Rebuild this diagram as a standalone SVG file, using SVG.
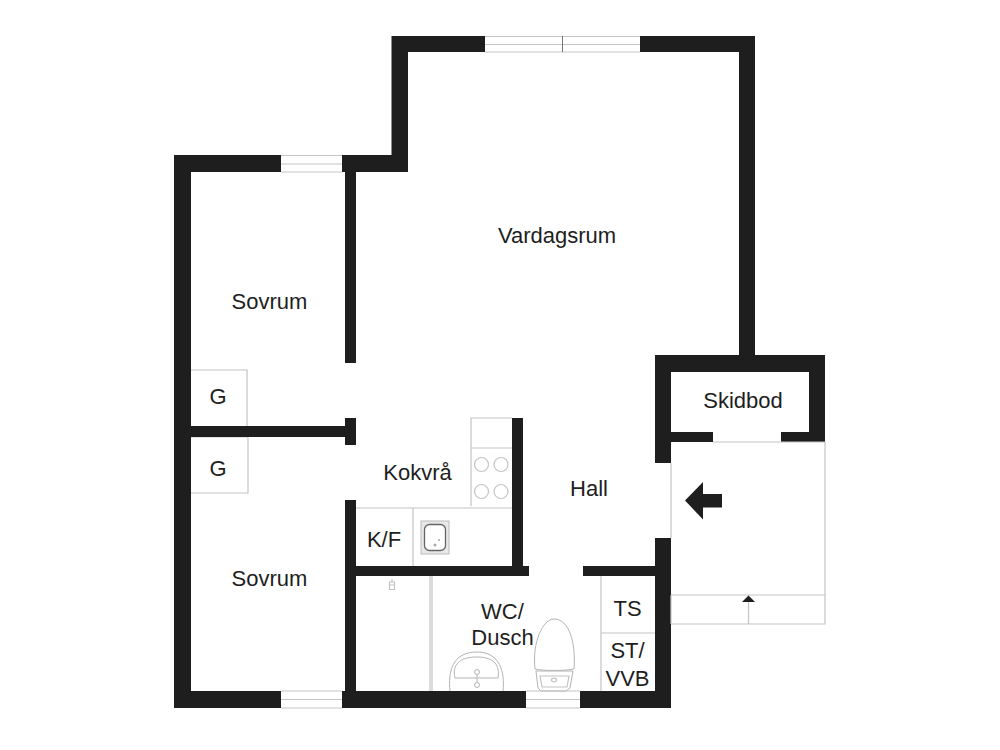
<svg xmlns="http://www.w3.org/2000/svg" width="1000" height="750" viewBox="0 0 1000 750">
<style>
.w{fill:#1e1e1e}
.l{fill:none;stroke:#c4c4c4;stroke-width:1.2}
.f{fill:#fff;stroke:#b4b4b4;stroke-width:1}
.t{font-family:"Liberation Sans",Arial,sans-serif;font-size:22px;fill:#1e1e1e;text-anchor:middle}
</style>
<rect width="1000" height="750" fill="#fff"/>
<g id="fixtures">
<path class="l" d="M191 370H247V426M191 437H248V493H191"/>
<path class="l" d="M471 506V418H512M471 448H512M356 508H512M413 508V566"/>
<g class="l"><circle cx="481.500" cy="464.500" r="7"/><circle cx="501" cy="464.500" r="7"/><circle cx="481.500" cy="491.500" r="7"/><circle cx="501" cy="491.500" r="7"/></g>
<rect x="421" y="521" width="28" height="33" fill="#e8e8e8" stroke="#bbb"/>
<rect x="424.500" y="524.500" width="21" height="26" rx="5" fill="#fff" stroke="#666" stroke-width="1.300"/>
<circle cx="435" cy="545" r="1.500" fill="#aaa"/><circle cx="439" cy="540" r="1" fill="#aaa"/>
<path class="l" d="M430 576V691M432 576V691M601 576V691M601 633H655"/>
<path class="l" d="M392 579v3M389.500 582h5v3h-5zM389.500 585h5v4.500h-5z"/>
<path class="f" d="M450 691C448 672 452 652 477 652C500 652 505 672 503 691"/>
<path class="f" d="M455 678C452 665 459 657 477 657C495 657 500 666 498 678Z"/>
<circle class="f" cx="477" cy="672" r="2.500"/><circle class="f" cx="477" cy="685" r="2.500"/><path class="l" d="M477 675V682"/>
<path class="f" d="M535 669C532 642 543 619 554 619C569 619 576 642 574 669C565 671 543 671 535 669Z"/>
<path class="f" d="M536 671H573L570 688L566 691H541L538 688Z"/>
<path class="l" d="M540 676H569L567 687H542Z"/><ellipse class="l" cx="554" cy="680" rx="2.500" ry="1.800"/>
</g>
<g id="walls">
<path class="w" d="M174 155H281V172H191V691H281V708H174Z"/>
<path class="w" d="M342 155H391.500V36H485V52H408V172H356V363H345V172H342Z"/>
<path class="w" d="M640 36H755V355H825V442H781V432H809V372H671V432H713V442H671V463H655V355H739V52H640Z"/>
<path class="w" d="M191 426H345V418H356V445H345V437H191Z"/>
<path class="w" d="M345 500H356V566H512V418H523V566H529V576H356V691H526V708H342V691H345Z"/>
<path class="w" d="M583 566H655V538H671V708H580V691H655V576H583Z"/>
</g>
<g id="windows">
<path class="l" d="M485 36.500H640M485 44.500H640M485 52H640"/>
<path d="M562.500 36V52" stroke="#777" fill="none"/>
<path class="l" d="M281 155.500H342M281 164H342M281 172H342"/>
<path class="l" d="M281 691H342M281 699.500H342M281 708H342"/>
<path class="l" d="M526 691H580M526 699.500H580M526 708H580"/>
</g>
<g id="entry">
<path class="l" d="M713 442H825V624H671M671 463V538M671 595H825M671 624V595"/>
<path class="l" d="M748.500 602V624"/>
<path class="w" d="M742 602L748.500 595.500L755 602Z"/>
<path class="w" d="M685 500.500L703 482V494H722V507.500H703V519.500Z"/>
</g>
<g id="labels">
<text class="t" x="557" y="242.500">Vardagsrum</text>
<text class="t" x="269.500" y="308.500">Sovrum</text>
<text class="t" x="269.500" y="585.500">Sovrum</text>
<text class="t" x="218" y="404">G</text>
<text class="t" x="218" y="476">G</text>
<text class="t" x="417.500" y="479.500">Kokvrå</text>
<text class="t" x="384" y="547">K/F</text>
<text class="t" x="589" y="495.500">Hall</text>
<text class="t" x="743" y="408">Skidbod</text>
<text class="t" x="502.500" y="619">WC/</text>
<text class="t" x="502.500" y="645">Dusch</text>
<text class="t" x="627.500" y="615.500">TS</text>
<text class="t" x="627.500" y="657.500">ST/</text>
<text class="t" x="627.500" y="685.500">VVB</text>
</g>
</svg>
